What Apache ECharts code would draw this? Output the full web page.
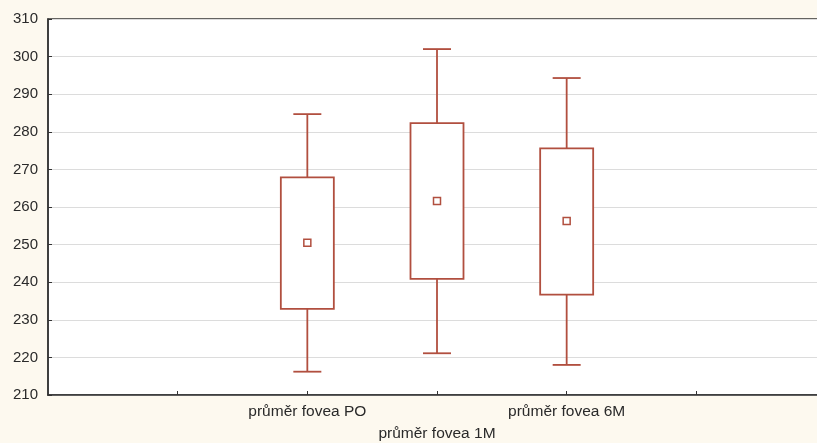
<!DOCTYPE html>
<html><head><meta charset="utf-8">
<script src="https://cdn.jsdelivr.net/npm/echarts@6/dist/echarts.min.js"></script>
<style>html,body{margin:0;padding:0;background:#fdf9ef;}#c{width:817px;height:443px;}</style>
</head><body><div id="c"></div>
<script>
var categories = ['', '', 'průměr fovea PO', 'průměr fovea 1M', 'průměr fovea 6M', '', ''];
var boxIndex = [2, 3, 4];
var whiskerLow = [216.2, 221.1, 218.0];
var boxLow = [232.9, 240.9, 236.7];
var boxHigh = [267.9, 282.3, 275.6];
var whiskerHigh = [284.7, 302.0, 294.3];
var means = [250.5, 261.6, 256.3];
var yTicks = {min: 210, max: 310, interval: 10};

var col = '#b14f3f';
var data = boxIndex.map(function (c, i) {
  return [c, whiskerLow[i], boxLow[i], boxHigh[i], whiskerHigh[i], means[i]];
});

var chart = echarts.init(document.getElementById('c'));
chart.setOption({
  backgroundColor: '#fdf9ef',
  animation: false,
  grid: {left: 48, right: -9, top: 19, bottom: 48, containLabel: false, outerBoundsMode: 'none',
    show: true, backgroundColor: '#ffffff', borderColor: '#333', borderWidth: 1.5},
  xAxis: {
    type: 'category', data: categories, boundaryGap: false,
    axisLine: {lineStyle: {color: '#333', width: 1.5}},
    axisTick: {inside: true, length: 4, lineStyle: {color: '#333'}, interval: function (idx) { return idx > 0 && idx < 6; }},
    axisLabel: {
      interval: 0, color: '#2a2a2a', fontFamily: 'Liberation Sans, Arial', fontSize: 15.5, margin: 6, lineHeight: 22,
      formatter: function (v, idx) { return idx === 3 ? '\n' + v : v; }
    },
    splitLine: {show: false}
  },
  yAxis: {
    type: 'value', min: yTicks.min, max: yTicks.max, interval: yTicks.interval,
    axisLine: {show: true, lineStyle: {color: '#333', width: 1.5}},
    axisTick: {show: true, inside: true, length: 4, lineStyle: {color: '#333'}},
    axisLabel: {color: '#2a2a2a', fontFamily: 'Liberation Sans, Arial', fontSize: 15, margin: 10},
    splitLine: {show: true, lineStyle: {color: '#dcdcdc', width: 1.2}}
  },
  series: [{
    type: 'custom',
    data: data,
    renderItem: function (params, api) {
      var x = api.value(0);
      var pWL = api.coord([x, api.value(1)]);
      var pBL = api.coord([x, api.value(2)]);
      var pBH = api.coord([x, api.value(3)]);
      var pWH = api.coord([x, api.value(4)]);
      var pM = api.coord([x, api.value(5)]);
      var cx = pWL[0];
      var bw = 53, cw = 28, ms = 7;
      var ls = {stroke: col, lineWidth: 1.8, fill: null};
      return {type: 'group', children: [
        {type: 'line', shape: {x1: cx, y1: pWH[1], x2: cx, y2: pBH[1]}, style: ls},
        {type: 'line', shape: {x1: cx, y1: pBL[1], x2: cx, y2: pWL[1]}, style: ls},
        {type: 'line', shape: {x1: cx - cw / 2, y1: pWH[1], x2: cx + cw / 2, y2: pWH[1]}, style: ls},
        {type: 'line', shape: {x1: cx - cw / 2, y1: pWL[1], x2: cx + cw / 2, y2: pWL[1]}, style: ls},
        {type: 'rect', shape: {x: cx - bw / 2, y: pBH[1], width: bw, height: pBL[1] - pBH[1]}, style: {stroke: col, lineWidth: 1.8, fill: '#fff'}},
        {type: 'rect', shape: {x: cx - ms / 2, y: pM[1] - ms / 2, width: ms, height: ms}, style: {stroke: col, lineWidth: 1.5, fill: '#fff'}}
      ]};
    }
  }]
});
</script></body></html>
